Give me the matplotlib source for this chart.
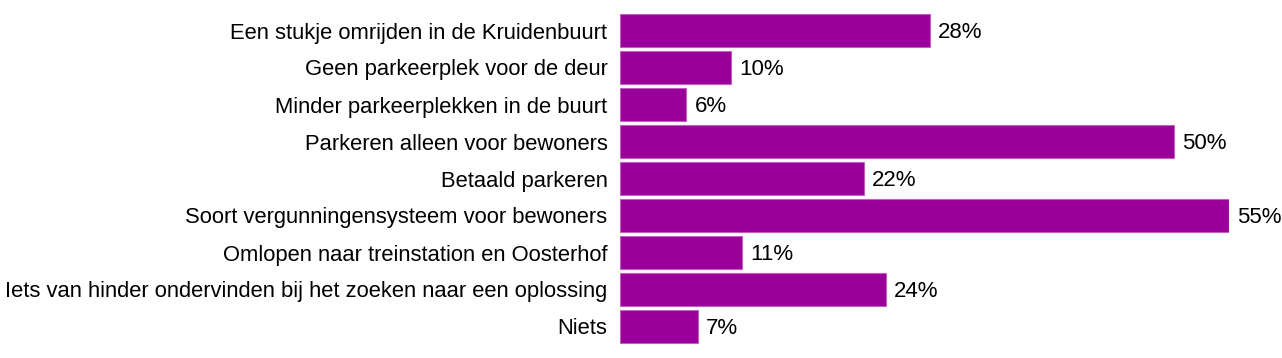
import matplotlib
matplotlib.use("Agg")
import matplotlib.pyplot as plt

categories = [
    "Een stukje omrijden in de Kruidenbuurt",
    "Geen parkeerplek voor de deur",
    "Minder parkeerplekken in de buurt",
    "Parkeren alleen voor bewoners",
    "Betaald parkeren",
    "Soort vergunningensysteem voor bewoners",
    "Omlopen naar treinstation en Oosterhof",
    "Iets van hinder ondervinden bij het zoeken naar een oplossing",
    "Niets",
]
values = [28, 10, 6, 50, 22, 55, 11, 24, 7]
value_labels = ["28%", "10%", "6%", "50%", "22%", "55%", "11%", "24%", "7%"]

plt.rcParams['font.family'] = ['Liberation Sans', 'DejaVu Sans']

W, H = 1282, 358
fig = plt.figure(figsize=(W / 100, H / 100), dpi=100)
left = 620 / W
right = 1229 / W
top = 12
bottom = 345
ax = fig.add_axes([left, (H - bottom) / H, right - left, (bottom - top) / H])

y = list(range(len(categories)))
ax.barh(y, values, height=0.89, color="#990099", edgecolor="#c45cc4", linewidth=0.8)
ax.set_xlim(0, 55)
ax.set_ylim(len(categories) - 0.5, -0.5)
ax.set_yticks(y)
ax.set_yticklabels(categories, fontsize=15.8)
ax.tick_params(axis='y', length=0, pad=9)
ax.set_xticks([])
for s in ax.spines.values():
    s.set_visible(False)
for yi, v, lab in zip(y, values, value_labels):
    ax.annotate(lab, (v, yi), xytext=(6, -1.5), textcoords="offset points",
                va="center", ha="left", fontsize=16)

fig.savefig("out.png", dpi=100)
